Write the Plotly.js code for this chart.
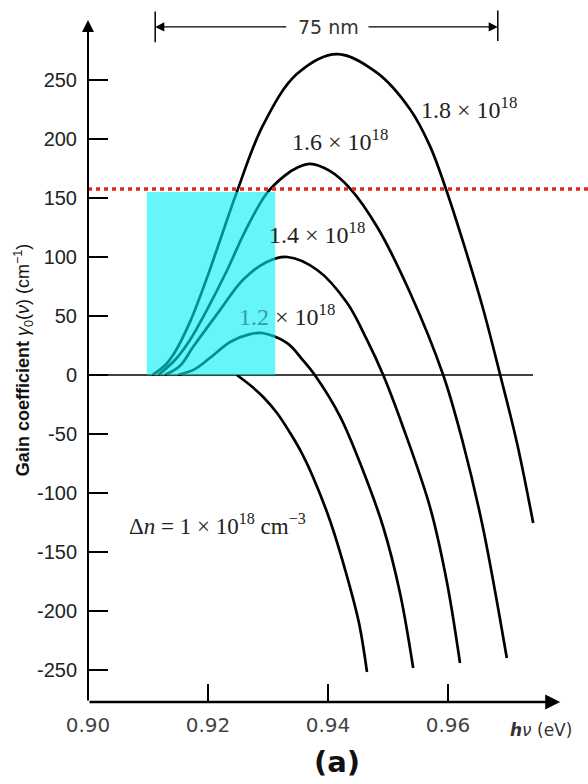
<!DOCTYPE html>
<html>
<head>
<meta charset="utf-8">
<script src="https://cdn.plot.ly/plotly-3.0.1.min.js"></script>
<style>html,body{margin:0;padding:0;background:#fff;}#chart{width:588px;height:784px;}</style>
</head>
<body>
<div id="chart"></div>
<script>
// ---- data (photon energy hν in eV, gain coefficient in cm^-1) ----
const hvTicks = [0.90, 0.92, 0.94, 0.96];
const hvTickLabels = ['0.90', '0.92', '0.94', '0.96'];
const gainTicks = [-250, -200, -150, -100, -50, 0, 50, 100, 150, 200, 250];
const gainTickLabels = ['-250', '-200', '-150', '-100', '-50', '0', '50', '100', '150', '200', '250'];

const hv_10 = [0.9248, 0.9270, 0.9292, 0.9315, 0.9337, 0.9358, 0.9375, 0.9403, 0.9432, 0.9452, 0.9465];
const gain_10 = [0, -8.5, -18.6, -32.2, -49.2, -67.8, -86.4, -122.9, -171.2, -211, -251.7];

const hv_12 = [0.9150, 0.9178, 0.9203, 0.9237, 0.9270, 0.9290, 0.9332, 0.9358, 0.9378, 0.9420, 0.9458, 0.9492, 0.9520, 0.9542];
const gain_12 = [0, 5, 14.4, 28, 34.7, 35.6, 27.1, 12.7, 0, -35, -80.5, -128.8, -184.7, -248.3];

const hv_14 = [0.9128, 0.9153, 0.9175, 0.9220, 0.9258, 0.9298, 0.9332, 0.9382, 0.9432, 0.9465, 0.9492, 0.9525, 0.9570, 0.9598, 0.9620];
const gain_14 = [0, 7.6, 23.7, 55, 80.5, 95.8, 100, 89, 61, 29.7, 0, -44, -111.9, -175, -244];

const hv_16 = [0.9117, 0.9145, 0.9170, 0.9198, 0.9232, 0.9262, 0.9298, 0.9328, 0.9350, 0.9370, 0.9403, 0.9437, 0.9482, 0.9537, 0.9592, 0.9625, 0.9658, 0.9698];
const gain_16 = [0, 12.7, 29.7, 55, 89, 122, 154, 169, 176, 179, 173, 158, 125.4, 69.5, 0, -57.6, -128.8, -239.8];

const hv_18 = [0.9107, 0.9128, 0.9145, 0.9170, 0.9198, 0.9220, 0.9248, 0.9292, 0.9348, 0.9415, 0.9482, 0.9537, 0.9570, 0.9595, 0.9625, 0.9658, 0.9687, 0.9715, 0.9742];
const gain_18 = [0, 8, 19.5, 45, 82, 114, 155, 212, 255, 272, 256, 225, 194, 160, 113, 57, 0, -57.6, -125.4];

const densityLabels = ['1.0', '1.2', '1.4', '1.6', '1.8'];
const thresholdGain = [157.6];          // red dotted threshold line
const gainBand = [0.9098, 0.9312];      // hν band with gain above threshold
const bandTop = [155];
const span75 = [0.9112, 0.9683];        // 75 nm span

// ---- traces ----
const series = [[hv_10, gain_10], [hv_12, gain_12], [hv_14, gain_14], [hv_16, gain_16], [hv_18, gain_18]];
const traces = series.map((s, i) => ({
  x: s[0], y: s[1], type: 'scatter', mode: 'lines',
  name: densityLabels[i] + '×10^18',
  line: {color: '#000', width: 2.7, shape: 'spline', smoothing: 1.0},
  showlegend: false, hoverinfo: 'skip'
}));

const yBottom = -277.1, yTop = 317.8;
const serif = 'Liberation Serif, serif';
const sans = 'Liberation Sans, Arial, sans-serif';
const lblFont = {family: serif, size: 24, color: '#222'};

const layout = {
  width: 588, height: 784,
  margin: {l: 88, r: 0, t: 0, b: 82},
  paper_bgcolor: '#fff', plot_bgcolor: '#fff',
  showlegend: false,
  xaxis: {
    range: [0.90, 0.983333], tickvals: hvTicks, ticktext: hvTickLabels,
    ticks: 'inside', ticklen: 18, tickwidth: 2, tickcolor: '#000',
    showgrid: false, zeroline: false, showline: false,
    tickfont: {family: 'DejaVu Sans, sans-serif', size: 20, color: '#444'},
    ticklabelstandoff: 9, fixedrange: true
  },
  yaxis: {
    range: [yBottom, yTop], tickvals: gainTicks, ticktext: gainTickLabels,
    ticks: 'inside', ticklen: 20, tickwidth: 2, tickcolor: '#000',
    showgrid: false, zeroline: false, showline: false,
    tickfont: {family: sans, size: 20, color: '#222'},
    ticklabelstandoff: 10, fixedrange: true
  },
  shapes: [
    {type: 'line', xref: 'x', yref: 'y', x0: 0.90, x1: 0.97417, y0: 0, y1: 0,
     line: {color: '#000', width: 1.5}, layer: 'below'},
    {type: 'rect', xref: 'x', yref: 'y', x0: gainBand[0], x1: gainBand[1], y0: 0, y1: bandTop[0],
     fillcolor: 'rgb(0,240,245)', opacity: 0.6, line: {width: 0}, layer: 'above'},
    {type: 'line', xref: 'paper', yref: 'y', x0: 0, x1: 1, y0: thresholdGain[0], y1: thresholdGain[0],
     line: {color: 'rgb(232,40,20)', width: 3.5, dash: '4px,4px'}, layer: 'above'},
    {type: 'line', xref: 'x', yref: 'y', x0: span75[0], x1: span75[0], y0: 282, y1: 308,
     line: {color: '#000', width: 1.5}},
    {type: 'line', xref: 'x', yref: 'y', x0: span75[1], x1: span75[1], y0: 283, y1: 309,
     line: {color: '#000', width: 1.5}}
  ],
  annotations: [
    // axis arrows
    {xref: 'x', yref: 'y', axref: 'x', ayref: 'y', x: 0.90, y: 300.8, ax: 0.90, ay: yBottom,
     text: '', showarrow: true, arrowhead: 2, arrowsize: 1.2, arrowwidth: 2, arrowcolor: '#000', standoff: 0, startstandoff: 0},
    {xref: 'x', yref: 'y', axref: 'x', ayref: 'y', x: 0.9787, y: yBottom, ax: 0.90, ay: yBottom,
     text: '', showarrow: true, arrowhead: 2, arrowsize: 1.2, arrowwidth: 2.5, arrowcolor: '#000', standoff: 0, startstandoff: 0},
    // 75 nm span arrows
    {xref: 'x', yref: 'y', axref: 'x', ayref: 'y', x: span75[0], y: 295, ax: 0.9333, ay: 295,
     text: '', showarrow: true, arrowhead: 2, arrowsize: 1.4, arrowwidth: 1.3, arrowcolor: '#000', standoff: 0},
    {xref: 'x', yref: 'y', axref: 'x', ayref: 'y', x: span75[1], y: 295, ax: 0.9465, ay: 295,
     text: '', showarrow: true, arrowhead: 2, arrowsize: 1.4, arrowwidth: 1.3, arrowcolor: '#000', standoff: 0},
    {xref: 'x', yref: 'y', x: 0.9400, y: 295, text: '75 nm', showarrow: false, yanchor: 'middle',
     font: {family: 'DejaVu Sans, sans-serif', size: 19, color: '#333'}},
    // y-axis title
    {xref: 'paper', yref: 'paper', x: -0.13, y: 0.487, textangle: -90, xanchor: 'center', yanchor: 'middle',
     text: '<b>Gain coefficient</b> <i>γ</i><sub>0</sub>(<i>ν</i>) (cm<sup>−1</sup>)', showarrow: false,
     font: {family: sans, size: 18, color: '#111'}},
    // curve labels
    {xref: 'x', yref: 'y', x: 0.9635, y: 226, yanchor: 'middle', text: '1.8 × 10<sup>18</sup>', showarrow: false, font: lblFont},
    {xref: 'x', yref: 'y', x: 0.9420, y: 199, yanchor: 'middle', text: '1.6 × 10<sup>18</sup>', showarrow: false, font: lblFont},
    {xref: 'x', yref: 'y', x: 0.9382, y: 120, yanchor: 'middle', text: '1.4 × 10<sup>18</sup>', showarrow: false, font: lblFont},
    {xref: 'x', yref: 'y', x: 0.9332, y: 51, yanchor: 'middle',
     text: '<span style="color:#3a9c9c">1.2 </span>× 10<sup>18</sup>', showarrow: false, font: lblFont},
    {xref: 'x', yref: 'y', x: 0.9215, y: -127, yanchor: 'middle',
     text: 'Δ<i>n</i> = 1 × 10<sup>18</sup> cm<sup>−3</sup>', showarrow: false,
     font: {family: serif, size: 23, color: '#222'}},
    // x-axis label and panel tag
    {xref: 'x', yref: 'paper', x: 0.9755, y: -0.040, xanchor: 'center', yanchor: 'middle',
     text: '<i><b>h</b>ν</i> (eV)', showarrow: false,
     font: {family: 'DejaVu Sans, sans-serif', size: 17, color: '#333'}},
    {xref: 'x', yref: 'paper', x: 0.9415, y: -0.0855, xanchor: 'center', yanchor: 'middle',
     text: '<b>(a)</b>', showarrow: false,
     font: {family: 'DejaVu Sans, sans-serif', size: 29, color: '#111'}}
  ]
};

Plotly.newPlot('chart', traces, layout, {staticPlot: true, displayModeBar: false});
</script>
</body>
</html>
